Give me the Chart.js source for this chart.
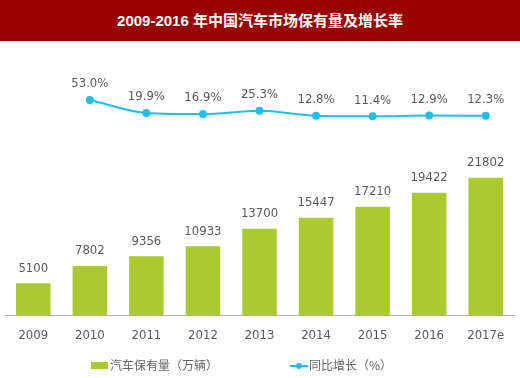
<!DOCTYPE html>
<html>
<head>
<meta charset="utf-8">
<script src="https://cdn.jsdelivr.net/npm/chart.js@4/dist/chart.umd.min.js"></script>
<style>
  body { margin: 0; background: #fff; }
  #page { position: relative; width: 520px; height: 378px; overflow: hidden; font-family: "Noto Sans CJK SC", sans-serif; }
  #title {
    height: 41px; background: #990000; color: #fff; text-align: center;
    font: bold 15px "Liberation Sans", "Noto Sans CJK SC", sans-serif; line-height: 42px;
  }
  #box { position: absolute; left: 0; top: 41px; width: 520px; height: 337px; }
  .leg { position: absolute; top: 357px; font-size: 12px; color: #666; line-height: 16px; white-space: nowrap; }
  .swatch { display: inline-block; width: 17px; height: 7px; background: #a9cb2f; vertical-align: middle; margin-right: 2px; position: relative; top: -1px; }
  .lmark { display: inline-block; width: 18px; height: 2px; background: #22bdeb; vertical-align: middle; position: relative; top: -1px; margin-right: 1px; }
  .lmark i { position: absolute; left: 6px; top: -2px; width: 6px; height: 6px; border-radius: 50%; background: #22bdeb; }
</style>
</head>
<body>
<div id="page">
  <div id="title">2009-2016 年中国汽车市场保有量及增长率</div>
  <div id="box"><canvas id="myChart"></canvas></div>
  <div class="leg" style="left:91px"><span class="swatch"></span>汽车保有量（万辆）</div>
  <div class="leg" style="left:290px"><span class="lmark"><i></i></span>同比增长（%）</div>
</div>
<script>
// chart data
const years = ["2009", "2010", "2011", "2012", "2013", "2014", "2015", "2016", "2017e"];
const carStock = [5100, 7802, 9356, 10933, 13700, 15447, 17210, 19422, 21802];
const growthRate = [null, 53.0, 19.9, 16.9, 25.3, 12.8, 11.4, 12.9, 12.3];

const barColor = "#a9cb2f";
const lineColor = "#22bdeb";
const labelFont = '13px "Liberation Sans Narrow", "DejaVu Sans Condensed", sans-serif';

// value labels above bars and line points
const valueLabels = {
    id: "valueLabels",
    afterDatasetsDraw(chart) {
        const ctx = chart.ctx;
        ctx.save();
        ctx.font = labelFont;
        ctx.fillStyle = "#5a5a5a";
        ctx.textAlign = "center";
        ctx.textBaseline = "middle";
        chart.getDatasetMeta(0).data.forEach((bar, i) => {
            ctx.fillText(String(carStock[i]), bar.x, bar.y - 15);
        });
        chart.getDatasetMeta(1).data.forEach((pt, i) => {
            if (growthRate[i] == null) return;
            ctx.fillText(growthRate[i].toFixed(1) + "%", pt.x, pt.y - 16);
        });
        ctx.restore();
    }
};

let myChart;

function renderChart() {
    const ctx = document.getElementById("myChart");
    myChart = new Chart(ctx, {
        type: "bar",
        data: {
            labels: years,
            datasets: [
                {
                    label: "汽车保有量（万辆）",
                    data: carStock,
                    backgroundColor: barColor,
                    barPercentage: 0.61,
                    categoryPercentage: 1,
                    yAxisID: "y",
                    order: 2
                },
                {
                    type: "line",
                    label: "同比增长（%）",
                    data: growthRate,
                    borderColor: lineColor,
                    backgroundColor: lineColor,
                    borderWidth: 2,
                    pointRadius: 3,
                    pointHoverRadius: 3,
                    cubicInterpolationMode: "monotone",
                    yAxisID: "y2",
                    order: 1
                }
            ]
        },
        options: {
            responsive: true,
            maintainAspectRatio: false,
            animation: false,
            layout: { padding: { left: 0, right: 6, top: 0, bottom: 23 } },
            plugins: {
                legend: { display: false },
                tooltip: { enabled: false }
            },
            scales: {
                x: {
                    grid: { display: false, drawTicks: false },
                    border: { color: "#b0b0b0", width: 1 },
                    ticks: { color: "#5a5a5a", padding: 12, font: { family: '"Liberation Sans Narrow", "DejaVu Sans Condensed", sans-serif', size: 13 } }
                },
                y: { display: false, min: 0, max: 42640 },
                y2: { display: false, min: -501, max: 192 }
            }
        },
        plugins: [valueLabels]
    });
}

window.onload = () => {
    renderChart();
};
</script>
</body>
</html>
